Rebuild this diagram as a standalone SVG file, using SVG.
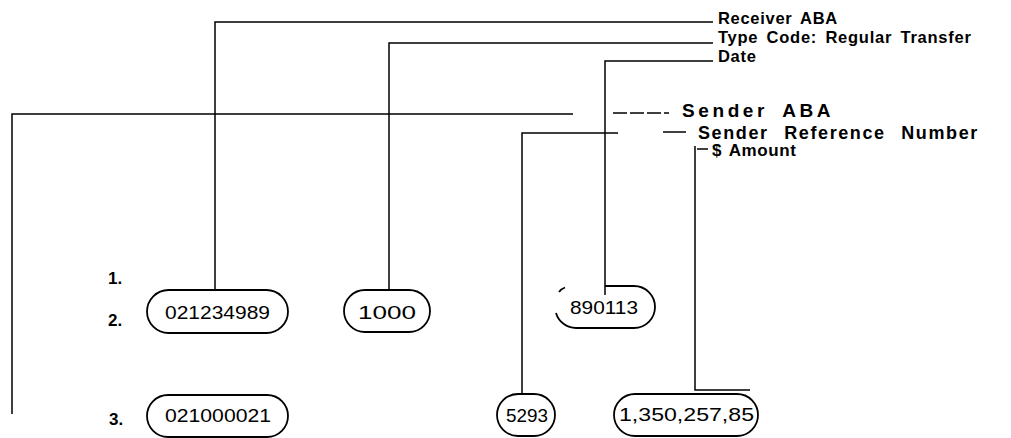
<svg xmlns="http://www.w3.org/2000/svg" width="1011" height="438" viewBox="0 0 1011 438">
<style>
.ln{fill:none;stroke:#000;stroke-width:1.5}
.pill{fill:none;stroke:#000;stroke-width:1.8}
.lbl{font-family:"Liberation Sans",Arial,sans-serif;font-weight:bold;fill:#000}
.num{font-family:"Liberation Sans",Arial,sans-serif;font-size:19px;fill:#000}
</style>
<rect width="1011" height="438" fill="#fff"/>
<g id="connectors">
<path class="ln" d="M215 290 V22 H713"/>
<path class="ln" d="M389 290 V43 H713"/>
<path class="ln" d="M605 295 V61 H713"/>
<path class="ln" d="M12 414 V114 H573"/>
<path class="ln" d="M613 113 H670" stroke-dasharray="14,3,14,3,14,3,5"/>
<path class="ln" d="M522 394 V133 H618"/>
<path class="ln" d="M663 132 H686"/>
<path class="ln" d="M750 390 H695 V146"/>
<path class="ln" d="M697 149 H708"/>
</g>
<g id="labels">
<text class="lbl" x="718" y="24" font-size="16.5" letter-spacing="0.7" word-spacing="3">Receiver ABA</text>
<text class="lbl" x="718" y="43" font-size="16.5" letter-spacing="0.75" word-spacing="3">Type Code: Regular Transfer</text>
<text class="lbl" x="718" y="62" font-size="16.5" letter-spacing="0.7">Date</text>
<text class="lbl" x="682" y="117" font-size="19" letter-spacing="3.6" word-spacing="6">Sender ABA</text>
<text class="lbl" x="698" y="139" font-size="18" letter-spacing="1.6" word-spacing="9">Sender Reference Number</text>
<text class="lbl" x="712" y="156" font-size="17" letter-spacing="0.6" word-spacing="2">$ Amount</text>
</g>
<g id="row-labels">
<text class="lbl" x="108" y="284" font-size="17">1.</text>
<text class="lbl" x="108" y="326" font-size="17">2.</text>
<text class="lbl" x="109" y="425" font-size="17">3.</text>
</g>
<g id="receiver-aba-2">
<rect class="pill" x="147" y="290" width="141" height="43" rx="21.5"/>
<text class="num" x="217.5" y="319" text-anchor="middle" textLength="105" lengthAdjust="spacingAndGlyphs">021234989</text>
</g>
<g id="type-code">
<rect class="pill" x="344" y="290" width="86" height="42" rx="21"/>
<text class="num" x="387" y="319" text-anchor="middle" textLength="58" lengthAdjust="spacingAndGlyphs">1000</text>
</g>
<g id="date">
<path class="pill" d="M559 292 Q561 289 565 287.5 M605 286 H634 A21 21 0 0 1 634 328 H576 A21 21 0 0 1 556 313"/>
<text class="num" x="604" y="314" text-anchor="middle" textLength="68" lengthAdjust="spacingAndGlyphs">890113</text>
</g>
<g id="sender-aba-3">
<rect class="pill" x="147" y="395" width="141" height="42" rx="21"/>
<text class="num" x="218" y="422" text-anchor="middle" textLength="106" lengthAdjust="spacingAndGlyphs">021000021</text>
</g>
<g id="sender-ref">
<rect class="pill" x="497" y="394" width="58" height="42" rx="21"/>
<text class="num" x="527" y="422" text-anchor="middle" textLength="42" lengthAdjust="spacingAndGlyphs">5293</text>
</g>
<g id="amount">
<rect class="pill" x="614" y="394" width="144" height="42" rx="21"/>
<text class="num" x="686.5" y="421" text-anchor="middle" textLength="135" lengthAdjust="spacingAndGlyphs">1,350,257,85</text>
</g>
</svg>
